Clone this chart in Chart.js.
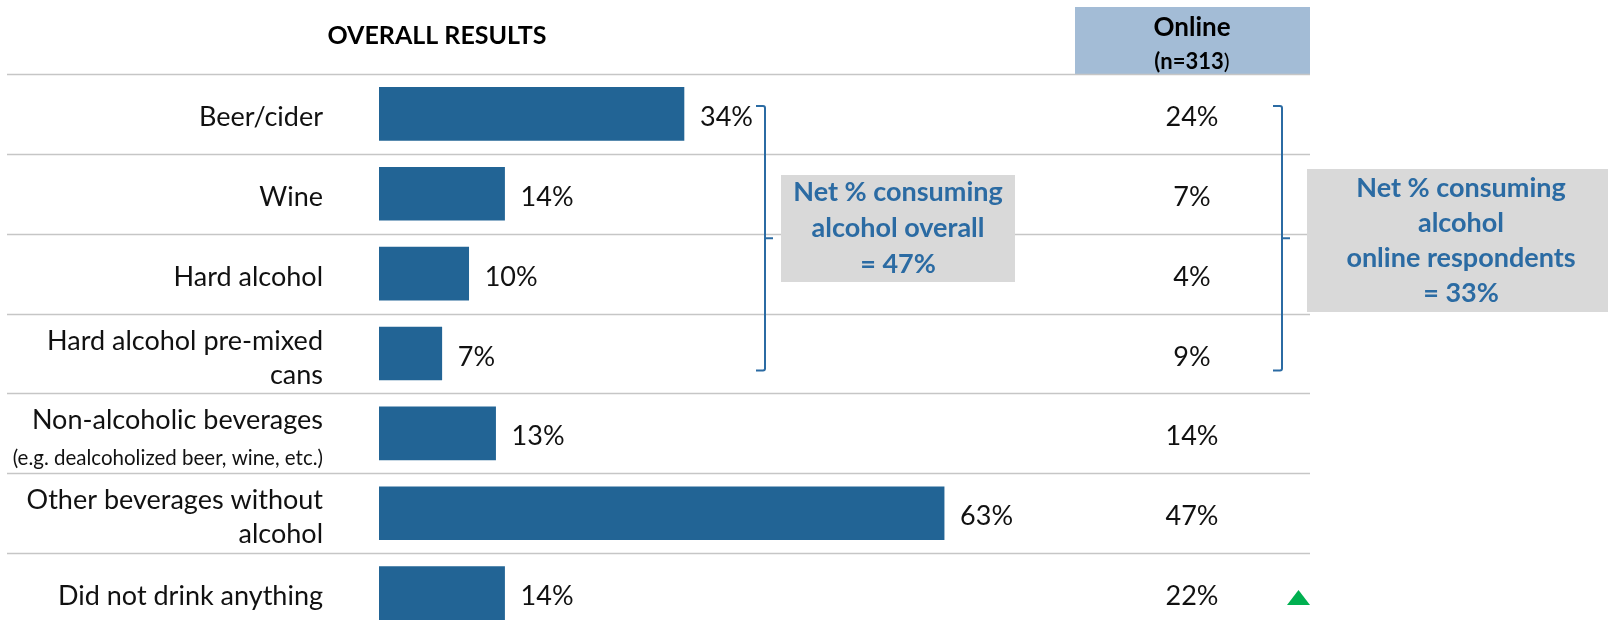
<!DOCTYPE html>
<html>
<head>
<meta charset="utf-8">
<script src="https://cdn.jsdelivr.net/npm/chart.js@4/dist/chart.umd.min.js"></script>
<style>
  html, body { margin: 0; padding: 0; background: #fff; }
  #wrap { width: 1608px; height: 633px; position: relative; }
</style>
</head>
<body>
<div id="wrap"><canvas id="results" width="1608" height="633"></canvas></div>
<script>
// categories and results (percent of respondents)
const categories = [
    ['Beer/cider'],
    ['Wine'],
    ['Hard alcohol'],
    ['Hard alcohol pre-mixed', 'cans'],
    ['Non-alcoholic beverages'],
    ['Other beverages without', 'alcohol'],
    ['Did not drink anything']
]
const categoryNotes = ['', '', '', '', '(e.g. dealcoholized beer, wine, etc.)', '', '']
const overall = [34, 14, 10, 7, 13, 63, 14]
const online = [24, 7, 4, 9, 14, 47, 22]
const onlineUp = [false, false, false, false, false, false, true]

const overallTitle = 'OVERALL RESULTS'
const onlineTitle = 'Online'
const onlineBase = '(n=313'
const netOverall = ['Net % consuming', 'alcohol overall', '= 47%']
const netOnline = ['Net % consuming', 'alcohol', 'online respondents', '= 33%']

const FONT = 'Lato, "Open Sans", sans-serif'
const BAR = '#226495'
const NAVY = '#2b6ba3'

function text(ctx, str, x, y, font, color, align) {
    ctx.font = font
    ctx.fillStyle = color
    ctx.textAlign = align || 'left'
    ctx.textBaseline = 'alphabetic'
    ctx.fillText(str, x, y)
}

// curly-ish bracket: vertical line with short ends pointing left and a nub pointing right
function bracket(ctx, x, top, bottom) {
    let mid = (top + bottom) / 2
    ctx.save()
    ctx.strokeStyle = NAVY
    ctx.lineWidth = 2
    ctx.beginPath()
    ctx.moveTo(x - 9, top)
    ctx.lineTo(x - 2, top)
    ctx.quadraticCurveTo(x, top, x, top + 2)
    ctx.lineTo(x, bottom - 2)
    ctx.quadraticCurveTo(x, bottom, x - 2, bottom)
    ctx.lineTo(x - 9, bottom)
    ctx.moveTo(x, mid)
    ctx.lineTo(x + 8, mid)
    ctx.stroke()
    ctx.restore()
}

const tablePlugin = {
    id: 'tableDecor',
    beforeDatasetsDraw(chart) {
        const ctx = chart.ctx
        const y = chart.scales.y
        const step = y.getPixelForValue(1) - y.getPixelForValue(0)

        // header cell for the online column
        ctx.fillStyle = '#a3bcd6'
        ctx.fillRect(1075, 7, 235, y.top - 7)

        // row separators
        ctx.strokeStyle = '#c6c6c6'
        ctx.lineWidth = 1.5
        for (let i = 0; i < categories.length; i++) {
            let py = Math.round(y.getPixelForValue(i) - step / 2) + 0.5
            ctx.beginPath()
            ctx.moveTo(7, py)
            ctx.lineTo(1310, py)
            ctx.stroke()
        }
    },
    afterDatasetsDraw(chart) {
        const ctx = chart.ctx
        const x = chart.scales.x
        const y = chart.scales.y
        const labelFont = '27px ' + FONT
        const boldFont = 'bold 27px ' + FONT

        text(ctx, overallTitle, 437, 44, 'bold 25px ' + FONT, '#000', 'center')
        text(ctx, onlineTitle, 1192, 36, 'bold 26px ' + FONT, '#000', 'center')
        ctx.font = 'bold 22px ' + FONT
        let bw = ctx.measureText(onlineBase).width
        ctx.font = '22px ' + FONT
        let pw = ctx.measureText(')').width
        text(ctx, onlineBase, 1192 - (bw + pw) / 2, 69, 'bold 22px ' + FONT, '#000', 'left')
        text(ctx, ')', 1192 - (bw + pw) / 2 + bw, 69, '22px ' + FONT, '#000', 'left')

        categories.forEach((lines, i) => {
            let c = y.getPixelForValue(i)
            if (categoryNotes[i]) {
                text(ctx, lines[0], 323, c - 4, labelFont, '#111', 'right')
                text(ctx, categoryNotes[i], 323, c + 32, '20.5px ' + FONT, '#111', 'right')
            } else if (lines.length > 1) {
                text(ctx, lines[0], 323, c - 4, labelFont, '#111', 'right')
                text(ctx, lines[1], 323, c + 30, labelFont, '#111', 'right')
            } else {
                text(ctx, lines[0], 323, c + 12, labelFont, '#111', 'right')
            }

            // value next to the bar
            text(ctx, overall[i] + '%', x.getPixelForValue(overall[i]) + 16, c + 12, labelFont, '#111', 'left')
            // online column
            text(ctx, online[i] + '%', 1192, c + 12, labelFont, '#111', 'center')

            if (onlineUp[i]) {
                ctx.fillStyle = '#00b050'
                ctx.beginPath()
                ctx.moveTo(1287, c + 12)
                ctx.lineTo(1310, c + 12)
                ctx.lineTo(1298.5, c - 3)
                ctx.closePath()
                ctx.fill()
            }
        })

        // net alcohol brackets span the four alcohol rows
        let top = y.getPixelForValue(0) - 8
        let bottom = y.getPixelForValue(3) + 17
        bracket(ctx, 765, top, bottom)
        bracket(ctx, 1282, top, bottom)

        ctx.fillStyle = '#d9d9d9'
        ctx.fillRect(781, 175, 234, 107)
        netOverall.forEach((s, k) => text(ctx, s, 898, 201 + k * 36, boldFont, NAVY, 'center'))

        ctx.fillStyle = '#d9d9d9'
        ctx.fillRect(1307, 169, 301, 143)
        netOnline.forEach((s, k) => text(ctx, s, 1461, 197 + k * 35, boldFont, NAVY, 'center'))
    }
}

new Chart(document.getElementById('results'), {
    type: 'bar',
    data: {
        labels: categories.map(l => l.join(' ')),
        datasets: [{
            data: overall,
            backgroundColor: BAR,
            borderWidth: 0,
            barThickness: 53
        }]
    },
    options: {
        indexAxis: 'y',
        responsive: false,
        animation: false,
        layout: { padding: { top: 74, right: 332, bottom: 0, left: 0 } },
        plugins: {
            legend: { display: false },
            tooltip: { enabled: false }
        },
        scales: {
            x: { min: 0, max: 100, display: false },
            y: {
                display: true,
                ticks: { display: false },
                grid: { display: false },
                border: { display: false },
                afterFit(scale) { scale.width = 379 }
            }
        }
    },
    plugins: [tablePlugin]
})
</script>
</body>
</html>
